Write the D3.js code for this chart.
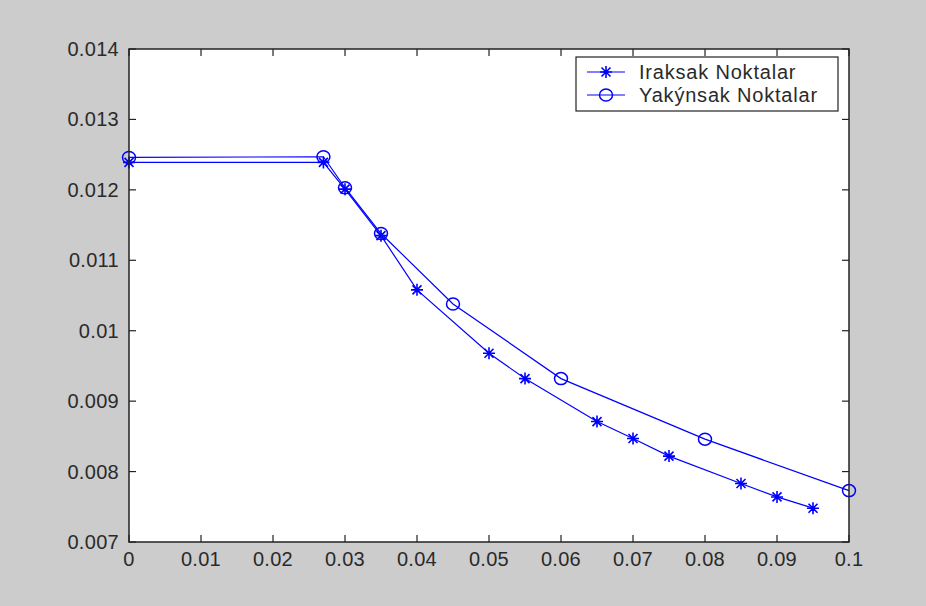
<!DOCTYPE html>
<html>
<head>
<meta charset="utf-8">
<script src="https://cdn.jsdelivr.net/npm/d3@7"></script>
<style>
  html, body { margin: 0; padding: 0; background: #cccccc; }
  svg { display: block; }
  text { font-family: "Liberation Sans", Arial, sans-serif; fill: #2a2a2a; }
</style>
</head>
<body>
<svg id="chart" width="926" height="606"></svg>
<script>
// Series data
const irakX = [0, 0.027, 0.03, 0.035, 0.04, 0.05, 0.055, 0.065, 0.07, 0.075, 0.085, 0.09, 0.095];
const irakY = [0.01239, 0.01239, 0.01201, 0.01135, 0.01058, 0.00968, 0.00932, 0.00871, 0.00847, 0.00822, 0.00783, 0.00764, 0.00748];
const yakX = [0, 0.027, 0.03, 0.035, 0.045, 0.06, 0.08, 0.1];
const yakY = [0.01246, 0.01247, 0.01203, 0.01138, 0.01038, 0.00932, 0.00846, 0.00773];

const xTicks = [0, 0.01, 0.02, 0.03, 0.04, 0.05, 0.06, 0.07, 0.08, 0.09, 0.1];
const xTickLabels = ["0", "0.01", "0.02", "0.03", "0.04", "0.05", "0.06", "0.07", "0.08", "0.09", "0.1"];
const yTicks = [0.007, 0.008, 0.009, 0.01, 0.011, 0.012, 0.013, 0.014];
const yTickLabels = ["0.007", "0.008", "0.009", "0.01", "0.011", "0.012", "0.013", "0.014"];
const seriesNames = ["Iraksak Noktalar", "Yakýnsak Noktalar"];

const svg = d3.select("#chart");
const L = 129, R = 849, T = 49, B = 542;
const x = d3.scaleLinear().domain([0, 0.1]).range([L, R]);
const y = d3.scaleLinear().domain([0.007, 0.014]).range([B, T]);
const blue = "#0000ff";
const axisColor = "#222";

// plot area
svg.append("rect").attr("x", L).attr("y", T).attr("width", R - L).attr("height", B - T).attr("fill", "#fff");

// inward ticks on all four sides
const tk = 7;
const ticksG = svg.append("g").attr("stroke", axisColor).attr("stroke-width", 1.2);
xTicks.forEach(v => {
  ticksG.append("line").attr("x1", x(v)).attr("x2", x(v)).attr("y1", B).attr("y2", B - tk);
  ticksG.append("line").attr("x1", x(v)).attr("x2", x(v)).attr("y1", T).attr("y2", T + tk);
});
yTicks.forEach(v => {
  ticksG.append("line").attr("x1", L).attr("x2", L + tk).attr("y1", y(v)).attr("y2", y(v));
  ticksG.append("line").attr("x1", R).attr("x2", R - tk).attr("y1", y(v)).attr("y2", y(v));
});

// tick labels
svg.append("g").selectAll("text").data(xTicks).join("text")
  .attr("x", d => x(d)).attr("y", 566)
  .attr("text-anchor", "middle").attr("font-size", 20).attr("letter-spacing", 0.3)
  .text((d, i) => xTickLabels[i]);
svg.append("g").selectAll("text").data(yTicks).join("text")
  .attr("x", 119).attr("y", d => y(d) + 7)
  .attr("text-anchor", "end").attr("font-size", 20).attr("letter-spacing", 0.3)
  .text((d, i) => yTickLabels[i]);

// lines
const line = d3.line().x(d => x(d[0])).y(d => y(d[1]));
const irak = irakX.map((v, i) => [v, irakY[i]]);
const yak = yakX.map((v, i) => [v, yakY[i]]);
svg.append("path").datum(irak).attr("d", line).attr("fill", "none").attr("stroke", blue).attr("stroke-width", 1.2);
svg.append("path").datum(yak).attr("d", line).attr("fill", "none").attr("stroke", blue).attr("stroke-width", 1.2);

// markers
function star(g, cx, cy) {
  const s = 6, d = 4.5;
  const p = `M${cx - s},${cy}L${cx + s},${cy}M${cx},${cy - s}L${cx},${cy + s}` +
            `M${cx - d},${cy - d}L${cx + d},${cy + d}M${cx - d},${cy + d}L${cx + d},${cy - d}`;
  g.append("path").attr("d", p).attr("stroke", blue).attr("stroke-width", 1.6).attr("fill", "none");
}
function ring(g, cx, cy) {
  g.append("ellipse").attr("cx", cx).attr("cy", cy).attr("rx", 6.5).attr("ry", 6)
    .attr("stroke", blue).attr("stroke-width", 1.5).attr("fill", "none");
}
const mk = svg.append("g");
irak.forEach(d => star(mk, x(d[0]), y(d[1])));
yak.forEach(d => ring(mk, x(d[0]), y(d[1])));

// axes box
svg.append("rect").attr("x", L).attr("y", T).attr("width", R - L).attr("height", B - T)
  .attr("fill", "none").attr("stroke", axisColor).attr("stroke-width", 1.5);

// legend
const lg = svg.append("g");
lg.append("rect").attr("x", 576).attr("y", 57).attr("width", 262).attr("height", 54)
  .attr("fill", "#fff").attr("stroke", axisColor).attr("stroke-width", 1.2);
const rows = [72, 95];
rows.forEach((ry, i) => {
  lg.append("line").attr("x1", 587).attr("x2", 625).attr("y1", ry).attr("y2", ry)
    .attr("stroke", blue).attr("stroke-width", 1.2);
  if (i === 0) star(lg, 606, ry); else ring(lg, 606, ry);
  lg.append("text").attr("x", 639).attr("y", ry + 7).attr("font-size", 20)
    .attr("letter-spacing", 0.8).text(seriesNames[i]);
});
</script>
</body>
</html>
